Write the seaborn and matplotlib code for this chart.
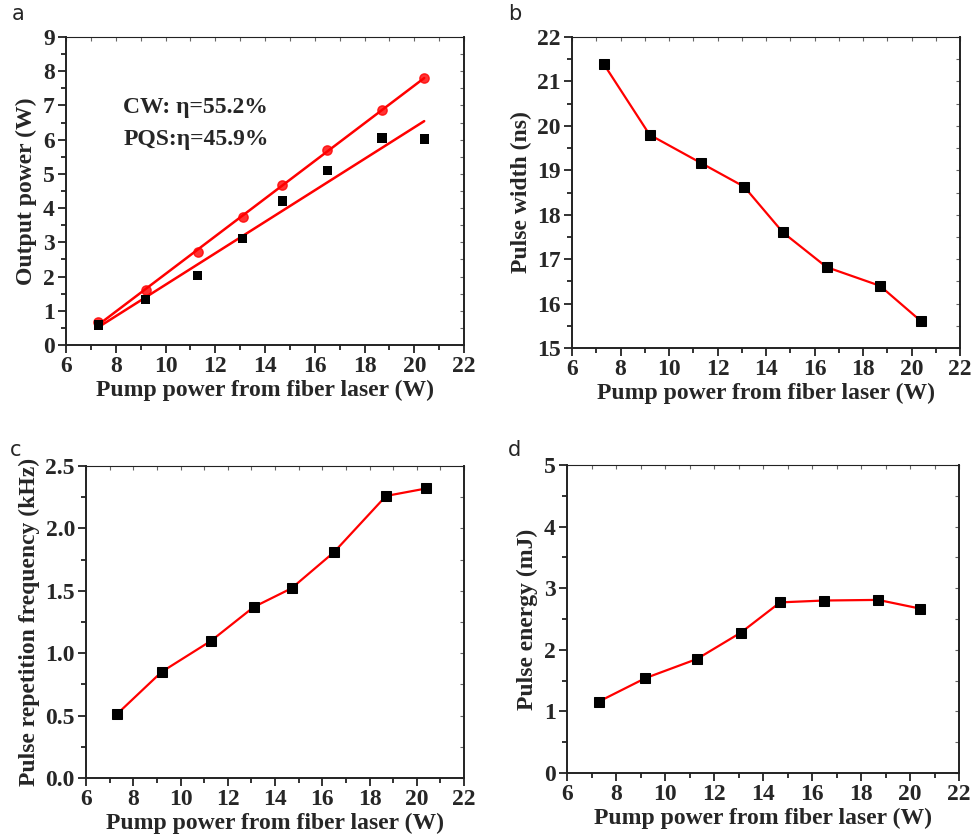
import numpy as np
import pandas as pd
import matplotlib
matplotlib.use("Agg")
import matplotlib.pyplot as plt
from matplotlib.ticker import MultipleLocator, FormatStrFormatter
import seaborn as sns

sns.set_style("ticks")
plt.rcParams['font.family'] = ['Liberation Serif', 'DejaVu Serif']

# Data
pump = [7.3, 9.2, 11.3, 13.1, 14.7, 16.5, 18.7, 20.4]
cw_power = [0.68, 1.60, 2.72, 3.73, 4.67, 5.70, 6.88, 7.80]
pqs_power = [0.58, 1.32, 2.03, 3.12, 4.21, 5.10, 6.05, 6.02]
pulse_width = [21.4, 19.8, 19.17, 18.63, 17.6, 16.82, 16.4, 15.6]
rep_freq = [0.51, 0.85, 1.10, 1.37, 1.52, 1.81, 2.26, 2.32]
pulse_energy = [1.16, 1.54, 1.85, 2.28, 2.77, 2.80, 2.81, 2.67]

xlabel = "Pump power from fiber laser (W)"

df = pd.DataFrame({"pump": pump, "cw": cw_power, "pqs": pqs_power,
                   "width": pulse_width, "freq": rep_freq, "energy": pulse_energy})

fig = plt.figure(figsize=(9.72, 8.36), dpi=100)
W, H = 972, 836


def add_ax(l, t, r, b):
    return fig.add_axes([l / W, 1 - b / H, (r - l) / W, (b - t) / H])


def style(ax, ylim, ymaj, ymin, ylabel, fmt=None):
    ax.set_xlim(6, 22)
    ax.set_ylim(*ylim)
    ax.xaxis.set_major_locator(MultipleLocator(2))
    ax.xaxis.set_minor_locator(MultipleLocator(1))
    ax.yaxis.set_major_locator(MultipleLocator(ymaj))
    ax.yaxis.set_minor_locator(MultipleLocator(ymin))
    if fmt:
        ax.yaxis.set_major_formatter(FormatStrFormatter(fmt))
    ax.tick_params(axis="both", which="both", direction="out", top=False, right=False,
                   bottom=True, left=True, labelsize=17, width=1.3, color="#222222",
                   pad=2)
    ax.tick_params(which="major", length=6)
    ax.tick_params(which="minor", length=3.5)
    for lab in ax.get_xticklabels() + ax.get_yticklabels():
        lab.set_fontweight("bold")
    for s in ax.spines.values():
        s.set_visible(True)
        s.set_color("#222222")
        s.set_linewidth(1.4)
    ax.spines["top"].set_linewidth(0.8)
    ax.set_xlabel(xlabel, fontsize=17, fontweight="bold", labelpad=2)
    ax.set_ylabel(ylabel, fontsize=17, fontweight="bold", labelpad=4)
    # inward ticks on top/right
    sec = ax.secondary_xaxis("top")
    sec.xaxis.set_major_locator(MultipleLocator(1))
    sec.tick_params(direction="in", length=3, labeltop=False, color="#666666")
    sec.spines["top"].set_visible(False)
    sec2 = ax.secondary_yaxis("right")
    sec2.yaxis.set_major_locator(MultipleLocator(ymin))
    sec2.tick_params(direction="in", length=3, labelright=False, color="#666666")
    sec2.spines["right"].set_visible(False)


# Panel a
ax = add_ax(66, 37, 464, 345)
sns.regplot(data=df, x="pump", y="cw", ax=ax, ci=None, color="red",
            scatter_kws={"s": 45, "marker": "o", "zorder": 3}, line_kws={"lw": 1.8})
sns.regplot(data=df, x="pump", y="pqs", ax=ax, ci=None, scatter=False, color="red",
            line_kws={"lw": 1.8})
sns.scatterplot(data=df, x="pump", y="pqs", ax=ax, color="black", marker="s",
                s=45, edgecolor="none", zorder=3)
style(ax, (0, 9), 1, 0.5, "Output power (W)")
ax.text(8.3, 6.95, "CW: η=55.2%", fontsize=17, fontweight="bold", va="center")
ax.text(8.3, 6.0, "PQS:η=45.9%", fontsize=17, fontweight="bold", va="center")

# Panel b
ax = add_ax(572, 37, 960, 348)
sns.lineplot(data=df, x="pump", y="width", ax=ax, color="red", lw=1.6,
             marker="s", markersize=6.5, markerfacecolor="black", markeredgecolor="black")
style(ax, (15, 22), 1, 0.5, "Pulse width (ns)")

# Panel c
ax = add_ax(86, 466, 464, 778)
sns.lineplot(data=df, x="pump", y="freq", ax=ax, color="red", lw=1.6,
             marker="s", markersize=6.5, markerfacecolor="black", markeredgecolor="black")
style(ax, (0, 2.5), 0.5, 0.25, "Pulse repetition frequency (kHz)", "%.1f")

# Panel d
ax = add_ax(567, 465, 959, 773)
sns.lineplot(data=df, x="pump", y="energy", ax=ax, color="red", lw=1.6,
             marker="s", markersize=6.5, markerfacecolor="black", markeredgecolor="black")
style(ax, (0, 5), 1, 0.5, "Pulse energy (mJ)")

for letter, (px, py) in zip("abcd", [(12, 4), (508, 4), (10, 440), (508, 440)]):
    fig.text(px / W, 1 - py / H, letter, fontsize=15, family="DejaVu Sans", va="top")

fig.savefig("out.png", dpi=100)
